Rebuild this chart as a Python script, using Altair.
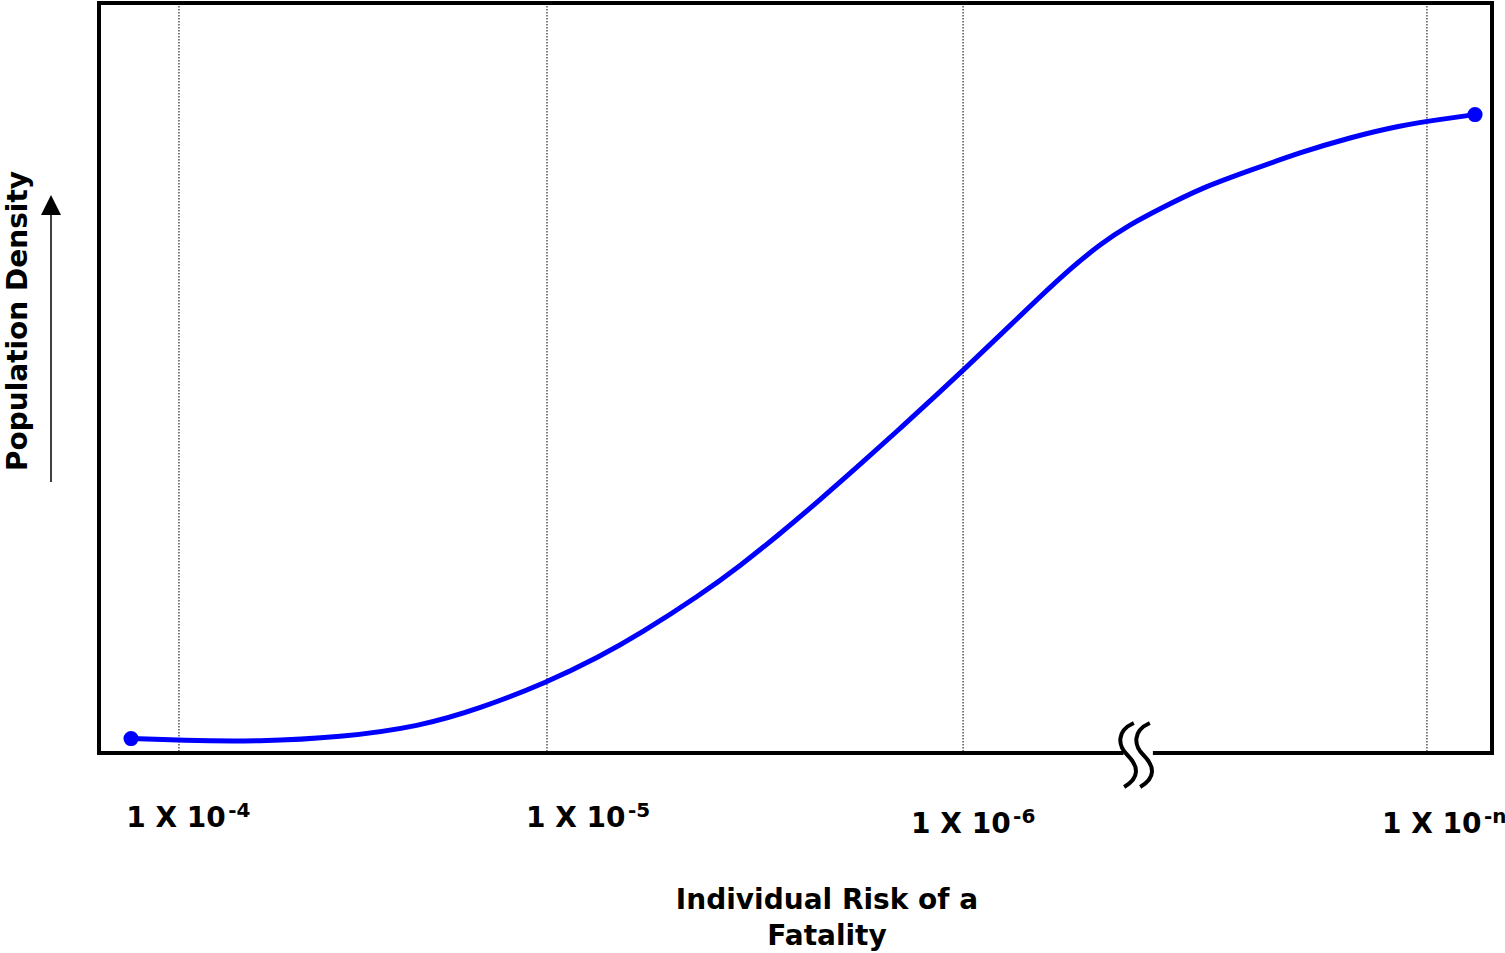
import altair as alt
import pandas as pd

# ---- data (arbitrary 0-100 units) ----
curve_x = [2.30, 5.81, 11.56, 17.30, 23.04, 27.35, 32.16, 35.97, 38.84, 43.14,
           46.02, 48.89, 51.76, 54.63, 57.50, 60.37, 62.02, 64.68, 67.55, 69.71,
           71.86, 74.01, 76.17, 79.04, 82.63, 86.22, 89.81, 93.39, 96.27, 98.78]
curve_y = [1.93, 1.67, 1.53, 2.07, 3.53, 5.93, 9.40, 12.87, 15.88, 21.04,
           24.95, 29.23, 33.76, 38.45, 43.25, 48.16, 51.01, 55.71, 60.83, 64.55,
           67.83, 70.47, 72.55, 75.27, 77.67, 80.07, 82.07, 83.67, 84.47, 85.13]
grid_x = [5.74, 32.16, 62.03, 95.33]
label_main = ["1 X 10", "1 X 10", "1 X 10", "1 X 10"]
label_exp = ["-4", "-5", "-6", "-n"]
label_x = [1.95, 30.65, 58.3, 92.1]
label_y = [-9.9, -9.9, -10.7, -10.7]
break_x = [73.94, 75.09]
break_gap = [73.4, 75.8]

W, H = 1393, 750
FONT = "DejaVu Sans"
BLUE = "#0000FF"

xs = alt.Scale(domain=[0, 100], nice=False, zero=False)
ys = alt.Scale(domain=[0, 100], nice=False, zero=False)
X = lambda f: alt.X(f, type="quantitative", scale=xs, axis=None)
Y = lambda f: alt.Y(f, type="quantitative", scale=ys, axis=None)

curve = pd.DataFrame({"x": curve_x, "y": curve_y})
ends = pd.DataFrame({"x": [curve_x[0], curve_x[-1]], "y": [curve_y[0], curve_y[-1]]})
grid = pd.DataFrame({"x": grid_x})
labels = pd.DataFrame({"x": label_x, "y": label_y, "main": label_main, "exp": label_exp})
frame = pd.DataFrame({
    "x": [0, 0, 100, 0, break_gap[1]],
    "x2": [100, 0, 100, break_gap[0], 100],
    "y": [100, 0, 0, 0, 0],
    "y2": [100, 100, 100, 0, 0],
})
brk = pd.DataFrame({"x": break_x, "y": [-0.27, -0.27]})
one = pd.DataFrame({"a": [0]})

gridlines = alt.Chart(grid).mark_rule(color="#000000", strokeWidth=1, strokeDash=[1.5, 1.5]).encode(
    x=X("x"))

line = alt.Chart(curve).mark_line(color=BLUE, strokeWidth=5, interpolate="basis").encode(
    x=X("x"), y=Y("y"))

pts = alt.Chart(ends).mark_point(filled=True, color=BLUE, size=230, opacity=1, shape="circle").encode(
    x=X("x"), y=Y("y"))

border = alt.Chart(frame).mark_rule(color="#000000", strokeWidth=4, strokeCap="square").encode(
    x=X("x"), x2="x2", y=Y("y"), y2="y2")

spath = "M0.15,-1 C-0.4,-0.75 -0.35,-0.3 -0.05,0 C0.3,0.35 0.35,0.7 -0.15,1"
breaks = alt.Chart(brk).mark_point(shape=spath, filled=False, stroke="#000000", strokeWidth=4,
                                   size=4096, opacity=1).encode(x=X("x"), y=Y("y"))

tick_main = alt.Chart(labels).mark_text(align="left", baseline="alphabetic", font=FONT,
                                        fontSize=28, fontWeight="bold", color="#000000").encode(
    x=X("x"), y=Y("y"), text="main:N")
tick_exp = alt.Chart(labels).mark_text(align="left", baseline="alphabetic", font=FONT,
                                       fontSize=20, fontWeight="bold", color="#000000",
                                       dx=102, dy=-10).encode(
    x=X("x"), y=Y("y"), text="exp:N")

xtitle = alt.Chart(one).mark_text(text=["Individual Risk of a", "Fatality"], align="center",
                                  baseline="alphabetic", lineHeight=36, font=FONT, fontSize=28,
                                  fontWeight="bold", color="#000000").encode(
    x=alt.value(728), y=alt.value(906))

ytitle = alt.Chart(one).mark_text(text="Population Density", angle=270, align="center",
                                  baseline="middle", font=FONT, fontSize=28, fontWeight="bold",
                                  color="#000000").encode(
    x=alt.value(-80), y=alt.value(318))

arrow_shaft = alt.Chart(one).mark_rule(color="#000000", strokeWidth=1.5).encode(
    x=alt.value(-48), y=alt.value(479), y2=alt.value(208))
arrow_head = alt.Chart(one).mark_point(shape="M0,-1L1,1L-1,1Z", filled=True, color="#000000",
                                       size=400, opacity=1).encode(
    x=alt.value(-48), y=alt.value(202))

chart = alt.layer(
    gridlines, line, pts, border, breaks, tick_main, tick_exp, xtitle, ytitle, arrow_shaft, arrow_head
).properties(
    width=W, height=H,
    padding={"left": 99, "top": 3, "right": 13, "bottom": 200},
    autosize=alt.AutoSizeParams(type="none"),
    background="white",
).configure_view(stroke=None)

chart.save("out.html", embed_options={"renderer": "svg", "actions": False})
